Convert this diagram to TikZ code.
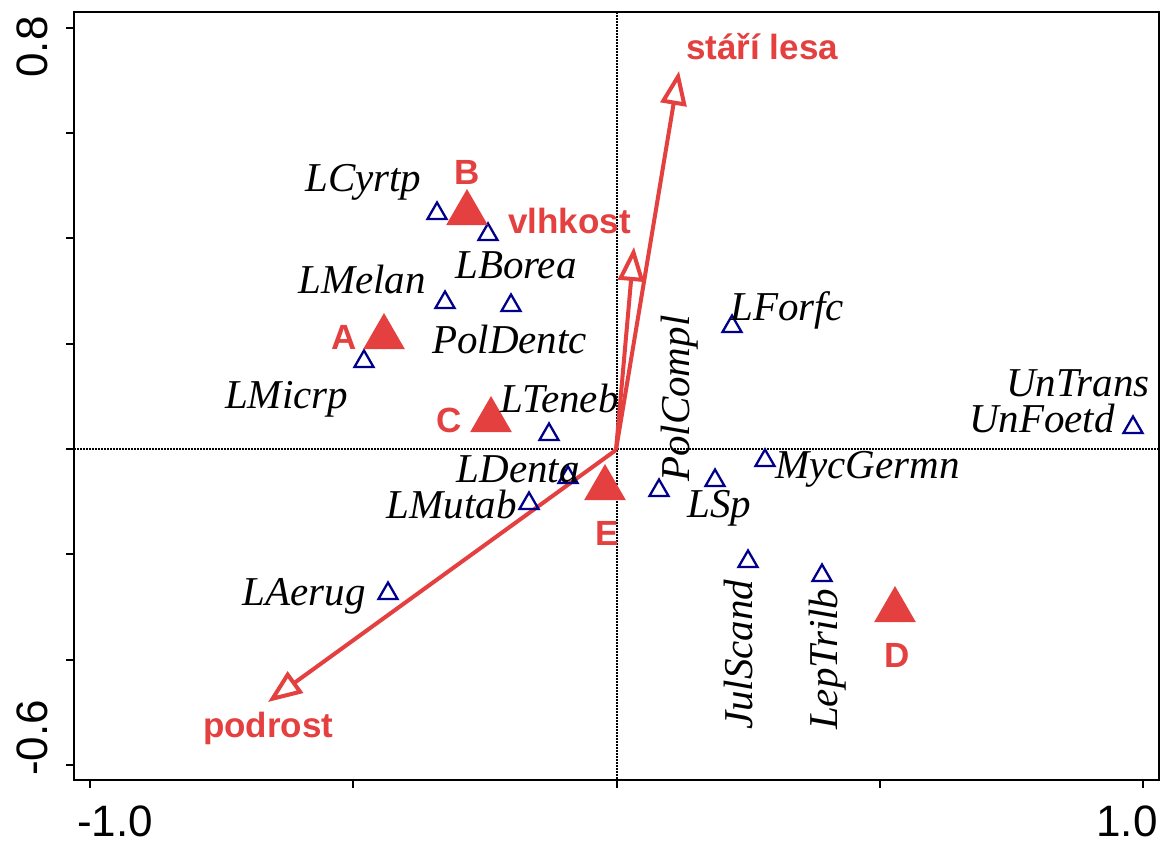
\documentclass[tikz,border=0pt]{standalone}
\usepackage{fontspec}
\setmainfont{Liberation Serif}
\newfontfamily\lsans{Liberation Sans}
\usetikzlibrary{arrows.meta,shapes.geometric}
\definecolor{rred}{RGB}{228,64,64}
\definecolor{bblue}{RGB}{0,0,140}
\begin{document}
\begin{tikzpicture}[x=1pt,y=-1pt,
  sp/.style={font=\fontsize{41}{41}\selectfont\itshape, inner sep=0pt, text=black},
  grp/.style={font=\lsans\bfseries\fontsize{35}{35}\selectfont, text=rred, inner sep=0pt},
  ax/.style={font=\lsans\fontsize{44}{44}\selectfont, inner sep=0pt},
  bt/.style={regular polygon, regular polygon sides=3, draw=bblue, line width=2.3pt, minimum size=22pt, inner sep=0pt},
  rt/.style={regular polygon, regular polygon sides=3, fill=rred, minimum size=48pt, inner sep=0pt},
  env/.style={draw=rred, line width=4pt, line join=miter, -{Triangle[open, length=34pt, width=26pt]}},
  dotax/.style={line width=1.5pt, dash pattern=on 1.5pt off 1.5pt},
  tick/.style={line width=2pt}
]
\useasboundingbox (0,0) rectangle (1175,844);
\fill[white] (0,0) rectangle (1175,844);
% dotted zero lines
\draw[dotax] (617,12) -- (617,780);
\draw[dotax] (74,449) -- (1159,449);
% frame
\draw[line width=2pt] (74,12) rectangle (1159,780);
% y ticks
\foreach \yy in {27.8,133.1,238.4,343.7,449,554.3,659.6,764.9}
  \draw[tick] (74,\yy) -- (66,\yy);
% x ticks
\foreach \xx in {90,353.25,616.5,879.75,1143}
  \draw[tick] (\xx,780) -- (\xx,788);
% axis labels
\node[ax, rotate=90] (y1) at (32,47) {0.8};
\node[ax, rotate=90] (y2) at (32,738) {-0.6};
\node[ax] (x1) at (115,821) {-1.0};
\node[ax] (x2) at (1127,821) {1.0};
% environmental arrows
\coordinate (o) at (616,450);
\coordinate (tipS) at (679,71);
\coordinate (tipV) at (634,247);
\coordinate (tipP) at (268,702);
\draw[env] (o) -- (tipS);
\draw[env] (o) -- (tipV);
\draw[env] (o) -- (tipP);
\node[grp, anchor=base west] (lS) at (686,59) {stáří lesa};
\node[grp, anchor=base west] (lV) at (508,233) {vlhkost};
\node[grp, anchor=base west] (lP) at (203,737) {podrost};
% species triangles
\node[bt] (t1) at (437,213.5) {};
\node[bt] (t2) at (488,234.5) {};
\node[bt] (tMelan) at (445,302.5) {};
\node[bt] (tBorea) at (511,305.5) {};
\node[bt] (tMicrp) at (364,361.5) {};
\node[bt] (tTeneb) at (549,434.5) {};
\node[bt] (tDenta) at (568,477.5) {};
\node[bt] (tMutab) at (529,503.5) {};
\node[bt] (tPolC) at (659,490.5) {};
\node[bt] (tSp) at (715,480.5) {};
\node[bt] (tMyc) at (765,460.5) {};
\node[bt] (tForfc) at (732,326.5) {};
\node[bt] (tUnF) at (1133,427.5) {};
\node[bt] (tAerug) at (388,593.5) {};
\node[bt] (tJul) at (748,561.5) {};
\node[bt] (tLep) at (822,575.5) {};
% sample triangles
\node[rt] (sB) at (467,213) {};
\node[rt] (sA) at (384,337) {};
\node[rt] (sC) at (491,420) {};
\node[rt] (sE) at (605,488) {};
\node[rt] (sD) at (895,610) {};
\node[grp] (lB) at (467,172) {B};
\node[grp] (lA) at (344,337) {A};
\node[grp] (lC) at (449,420) {C};
\node[grp] (lE) at (607,533) {E};
\node[grp] (lD) at (897,655) {D};
% species labels
\node[sp, anchor=base west] (nCyrtp) at (305,191) {LCyrtp};
\node[sp, anchor=base west] (nMelan) at (298,293) {LMelan};
\node[sp, anchor=base west] (nMicrp) at (225,408) {LMicrp};
\node[sp, anchor=base west] (nBorea) at (455,278) {LBorea};
\node[sp, anchor=base west] (nPolD) at (432,353) {PolDentc};
\node[sp, anchor=base west] (nTeneb) at (500,412) {LTeneb};
\node[sp, anchor=base east] (nDenta) at (580,482) {LDenta};
\node[sp, anchor=base east] (nMutab) at (517,518) {LMutab};
\node[sp, anchor=base east] (nAerug) at (366,605) {LAerug};
\node[sp, anchor=base west] (nForfc) at (730,320) {LForfc};
\node[sp, anchor=base west] (nMyc) at (775,478) {MycGermn};
\node[sp, anchor=base west] (nSp) at (687,517) {LSp};
\node[sp, anchor=base east] (nUnT) at (1150,396) {UnTrans};
\node[sp, anchor=base east] (nUnF) at (1115,432) {UnFoetd};
\node[sp, anchor=base west, rotate=90] (nPolC) at (689,482) {PolCompl};
\node[sp, anchor=base west, rotate=90] (nJul) at (752,730) {JulScand};
\node[sp, anchor=base west, rotate=90] (nLep) at (837,730) {LepTrilb};
\end{tikzpicture}
\end{document}
